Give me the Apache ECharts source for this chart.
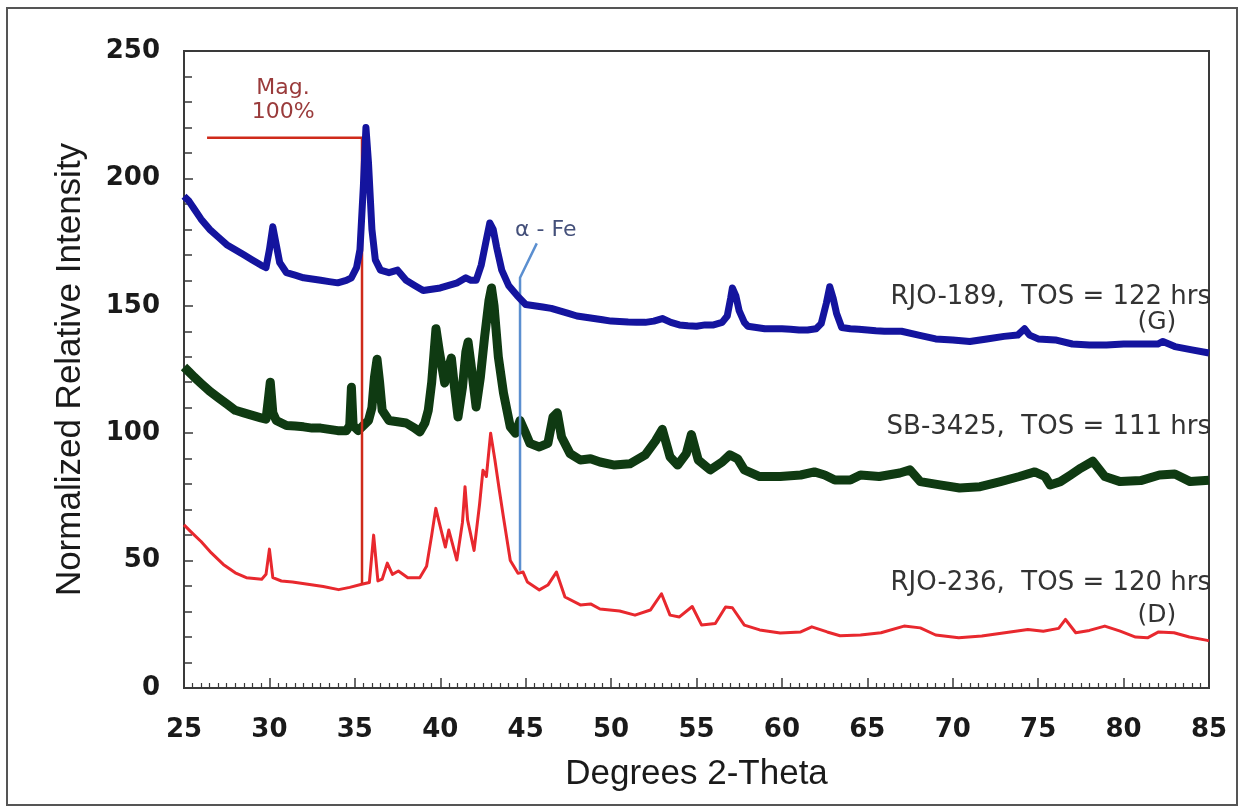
<!DOCTYPE html>
<html>
<head>
<meta charset="utf-8">
<title>XRD patterns</title>
<script src="https://cdn.jsdelivr.net/npm/echarts@6/dist/echarts.min.js"></script>
<style>
  html, body { margin: 0; padding: 0; background: #ffffff; }
  #chart { width: 1244px; height: 808px; }
</style>
</head>
<body>
<div id="chart"></div>
<script>
// X-ray diffraction patterns of three spent catalysts: [2-theta (deg), normalized intensity]
const rjo189 = [
  [25,193],[25.3,191],[25.6,188],[26,184],[26.5,180],[27,177],[27.5,174],[28,172],[28.5,170],[29,168],
  [29.5,166],[29.8,165],[30.0,172],[30.2,181],[30.4,174],[30.6,167],[31,163],[31.5,162],[32,161],[32.5,160.5],
  [33,160],[33.5,159.5],[34,159],[34.5,160],[34.8,161],[35.1,165],[35.3,172],[35.5,197],[35.65,220],[35.8,206],
  [36.0,180],[36.2,168],[36.5,164],[37,163],[37.5,164],[38,160],[38.5,158],[39,156],[39.5,156.5],[40,157],
  [40.5,158],[41,159],[41.5,161],[41.8,160],[42.1,160],[42.4,166],[42.7,176],[42.9,182.5],[43.1,180],[43.3,173],
  [43.6,164],[44,158],[44.5,154],[45,150.5],[45.5,150],[46,149.5],[46.5,149],[47,148],[47.5,147],[48,146],
  [48.5,145.5],[49,145],[49.5,144.5],[50,144],[50.5,143.8],[51,143.6],[51.5,143.5],[52,143.5],[52.5,144],[53,145],
  [53.5,143.5],[54,142.5],[54.5,142.2],[55,142],[55.5,142.5],[56,142.5],[56.5,143.5],[56.8,146],[57.0,153],[57.1,157],
  [57.3,154],[57.5,148],[57.8,143.5],[58,142],[58.5,141.5],[59,141],[59.5,141],[60,141],[60.5,140.8],[61,140.5],
  [61.5,140.5],[62,141],[62.3,143],[62.6,151],[62.8,157.5],[63.0,153],[63.2,147],[63.5,141.5],[64,141],[64.5,140.8],
  [65,140.5],[65.5,140.2],[66,140],[67,140],[68,138.5],[69,137],[70,136.6],[71,136],[72,137],[73,138],
  [73.8,138.5],[74.2,141],[74.5,138.5],[75,137],[76,136.6],[77,135],[78,134.6],[79,134.6],[80,135],[81,135],
  [82,135],[82.3,136],[83,134],[84,132.7],[85,131.5]
];
const sb3425 = [
  [25,126],[25.3,124],[25.6,122],[26,119.5],[26.5,116.5],[27,114],[27.5,111.5],[28,109],[28.5,108],[29,107],
  [29.5,106],[29.8,105.5],[29.95,114],[30.05,120],[30.2,108],[30.4,105],[31,103],[31.5,102.8],[32,102.5],[32.5,102],
  [33,102],[33.5,101.5],[34,101],[34.5,101],[34.7,103],[34.8,118],[34.9,103],[35.2,101],[35.5,103],[35.8,105],
  [36.0,110],[36.15,122],[36.3,129],[36.45,120],[36.6,109],[37,105],[37.5,104.5],[38,104],[38.5,102],[38.8,100.5],
  [39.1,104],[39.3,109],[39.5,120],[39.75,141],[39.95,132],[40.26,119.7],[40.45,125],[40.65,129.5],[40.85,117],[41.04,106.4],
  [41.3,118],[41.5,132],[41.63,135.8],[41.8,127],[42.1,110.3],[42.35,122],[42.6,138],[42.85,152],[43.0,157],[43.15,150],
  [43.4,130],[43.7,115.8],[44.1,102.5],[44.4,100],[44.67,105],[45.0,100],[45.25,96],[45.8,94.6],[46.3,96],[46.6,106.4],
  [46.85,108],[47.1,98.5],[47.6,92],[48.2,89.5],[48.8,90],[49.35,88.7],[50.2,87.5],[51.1,88],[52.0,91.5],[52.6,97],
  [53.0,101.5],[53.45,90.7],[53.9,87.5],[54.4,92],[54.7,99.5],[55.1,89.5],[55.8,85.6],[56.5,88.7],[56.95,91.5],[57.4,90],
  [57.8,85.6],[58.7,83],[59.9,83],[61.1,83.6],[61.9,84.8],[62.5,83.6],[63.1,81.6],[64.0,81.6],[64.6,83.6],[65.7,83],
  [66.9,84.4],[67.5,85.6],[68.1,81],[69.25,79.7],[70.4,78.5],[71.6,79],[72.8,81],[73.9,83],[74.8,84.8],[75.4,83],
  [75.7,79.7],[76.3,81],[76.9,83.6],[77.5,86.3],[78.2,89],[78.9,83],[79.8,81],[81.0,81.4],[82.1,83.6],[83.0,84],
  [83.9,81],[85,81.5]
];
const rjo236 = [
  [25,64],[25.5,60.7],[26,57.5],[26.6,53],[27.3,48.5],[28,45.2],[28.65,43.3],[29.55,42.7],[29.8,44.6],[30.0,54.5],
  [30.2,43.3],[30.7,42],[31.35,41.6],[32.25,40.7],[33.15,39.8],[34.05,38.6],[34.7,39.5],[35.4,40.7],[35.85,41.4],[36.1,60],
  [36.35,42],[36.6,42.7],[36.9,49],[37.2,44.6],[37.55,45.9],[38.1,43.3],[38.8,43.3],[39.2,47.8],[39.5,60],[39.74,70.5],
  [40.05,62],[40.3,55.3],[40.5,62],[40.97,50.2],[41.3,65],[41.45,79],[41.6,66],[41.98,54],[42.3,72],[42.5,85.5],
  [42.7,83],[42.95,100],[43.2,89.5],[43.45,78],[43.7,67],[44.1,50],[44.55,45],[44.85,45.5],[45.1,41.6],[45.8,38.5],
  [46.3,40.4],[46.8,45.5],[47.3,35.7],[48.2,32.6],[48.8,33],[49.35,31],[50.5,30.2],[51.4,28.6],[52.3,30.6],[52.95,37],
  [53.45,28.6],[54.0,27.9],[54.75,32],[55.3,24.7],[56.1,25.3],[56.7,31.8],[57.1,31.5],[57.8,24.7],[58.7,22.8],[59.9,21.6],
  [61.1,22],[61.75,24],[62.65,22],[63.4,20.5],[64.6,20.8],[65.8,21.7],[67.15,24.3],[68.1,23.6],[69.0,20.8],[70.35,19.7],
  [71.7,20.4],[73.05,21.7],[74.4,23],[75.3,22.3],[76.2,23.4],[76.6,26.9],[77.2,21.7],[78.0,22.6],[78.9,24.3],[79.8,22.3],
  [80.7,20],[81.4,19.7],[82.05,22],[82.95,21.7],[83.85,20],[84.9,18.7],[85,18.5]
];

// Reference markers: magnetite 100% reflection and alpha-iron (110)
const magMarker = [[26.35,216],[35.42,216],[35.42,41]];
const feMarker = [[45.65,174.5],[44.67,161],[44.67,46]];

// Axis ranges and ticks
const xRange = [25, 85];
const xStep = 5;
const yRange = [0, 250];
const yStep = 50;

// Text annotations anchored in data coordinates: [text, 2-theta, intensity, align, colour, size]
const notes = [
  ['RJO-189,  TOS = 122 hrs', 85.12, 153.5, 'right', '#333333', 26],
  ['(G)', 81.95, 143.6, 'center', '#333333', 25],
  ['SB-3425,  TOS = 111 hrs', 85.12, 102.4, 'right', '#333333', 26],
  ['RJO-236,  TOS = 120 hrs', 85.12, 41.2, 'right', '#333333', 26],
  ['(D)', 81.95, 28.6, 'center', '#333333', 25],
  ['Mag.', 30.8, 235.5, 'center', '#9a3b3b', 22],
  ['100%', 30.8, 226.0, 'center', '#9a3b3b', 22],
  ['\u03b1 - Fe', 44.38, 179.7, 'left', '#44507a', 22]
];

const chart = echarts.init(document.getElementById('chart'), null, { renderer: 'canvas' });

const tickFont = { fontFamily: 'DejaVu Sans', fontWeight: 'bold', fontSize: 26, color: '#1a1a1a' };
const axisColor = '#3a3a3a';

const option = {
  backgroundColor: '#ffffff',
  animation: false,
  grid: { left: 184, top: 51, width: 1025, height: 637, show: true, borderColor: axisColor, borderWidth: 2, backgroundColor: 'transparent' },
  xAxis: {
    type: 'value', min: xRange[0], max: xRange[1], interval: xStep,
    name: 'Degrees 2-Theta', nameLocation: 'middle', nameGap: 69,
    nameTextStyle: { fontFamily: 'Liberation Sans', fontSize: 35, color: '#1a1a1a' },
    axisLine: { show: true, lineStyle: { color: axisColor, width: 2 } },
    axisTick: { show: true, inside: true, length: 10, lineStyle: { color: axisColor, width: 1.5 } },
    minorTick: { show: true, splitNumber: 10, length: 5, lineStyle: { color: axisColor, width: 1.2 } },
    axisLabel: Object.assign({ margin: 29 }, tickFont),
    splitLine: { show: false }
  },
  yAxis: {
    type: 'value', min: yRange[0], max: yRange[1], interval: yStep,
    name: 'Normalized Relative Intensity', nameLocation: 'middle', nameGap: 96, nameRotate: 90,
    nameTextStyle: { fontFamily: 'Liberation Sans', fontSize: 35, color: '#1a1a1a' },
    axisLine: { show: true, lineStyle: { color: axisColor, width: 2 } },
    axisTick: { show: true, inside: true, length: 9, lineStyle: { color: axisColor, width: 1.5 } },
    minorTick: { show: true, splitNumber: 5, length: 8, lineStyle: { color: axisColor, width: 1.5 } },
    axisLabel: Object.assign({ margin: 24 }, tickFont),
    splitLine: { show: false }
  },
  series: [
    { name: 'RJO-236', type: 'line', data: rjo236, showSymbol: false, z: 2,
      lineStyle: { color: '#e8282e', width: 3, join: 'round' } },
    { name: 'SB-3425', type: 'line', data: sb3425, showSymbol: false, z: 3,
      lineStyle: { color: '#0f3a12', width: 9, join: 'round' } },
    { name: 'Mag', type: 'line', data: magMarker, showSymbol: false, z: 4,
      lineStyle: { color: '#cf2a1a', width: 2.5, join: 'miter' } },
    { name: 'alpha-Fe', type: 'line', data: feMarker, showSymbol: false, z: 4,
      lineStyle: { color: '#5b8fd0', width: 2.5, join: 'miter' } },
    { name: 'RJO-189', type: 'line', data: rjo189, showSymbol: false, z: 5,
      lineStyle: { color: '#14149e', width: 7, join: 'round' } }
  ]
};

chart.setOption(option);

// Place the annotation texts and the outer frame once the axes are laid out
const graphics = notes.map(function (n) {
  const p = chart.convertToPixel({ gridIndex: 0 }, [n[1], n[2]]);
  return {
    type: 'text', x: p[0], y: p[1], z: 10,
    style: { text: n[0], fill: n[4], font: n[5] + 'px "DejaVu Sans"', textAlign: n[3], textVerticalAlign: 'middle' }
  };
});
graphics.push({
  type: 'rect', z: 0, silent: true,
  shape: { x: 7, y: 8, width: 1230, height: 797 },
  style: { fill: 'none', stroke: '#555555', lineWidth: 2 }
});
chart.setOption({ graphic: graphics });
</script>
</body>
</html>
